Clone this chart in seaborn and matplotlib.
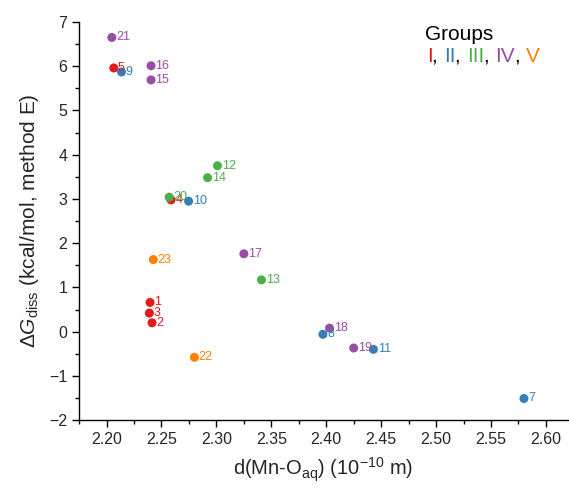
import pandas as pd
import matplotlib
matplotlib.use("Agg")
import matplotlib.pyplot as plt
from matplotlib.ticker import MultipleLocator
import seaborn as sns

# Datos
etiquetas = ['1', '2', '3', '4', '5',
             '7', '8', '9', '10', '11',
             '12', '13', '14', '20',
             '15', '16', '17', '18', '19', '21',
             '22', '23']
d_mn_o = [2.2396, 2.2414, 2.2390, 2.2587, 2.2066,
          2.5800, 2.3970, 2.2136, 2.2747, 2.4430,
          2.3010, 2.3410, 2.2920, 2.2570,
          2.2405, 2.2405, 2.3250, 2.4030, 2.4250, 2.2048,
          2.2800, 2.2426]
delta_g = [0.66, 0.20, 0.42, 2.98, 5.96,
           -1.51, -0.06, 5.87, 2.95, -0.40,
           3.75, 1.17, 3.48, 3.04,
           5.69, 6.01, 1.76, 0.08, -0.37, 6.65,
           -0.58, 1.63]
grupo = ['I'] * 5 + ['II'] * 5 + ['III'] * 4 + ['IV'] * 6 + ['V'] * 2

nombres_grupos = ['I', 'II', 'III', 'IV', 'V']
colores = {'I': '#e41a1c', 'II': '#377eb8', 'III': '#4daf4a',
           'IV': '#984ea3', 'V': '#ff7f00'}

df = pd.DataFrame({'d': d_mn_o, 'G': delta_g, 'grupo': grupo, 'etiqueta': etiquetas})

sns.set_style('ticks')
plt.rcParams['font.family'] = ['Liberation Sans', 'DejaVu Sans']
plt.rcParams['mathtext.fontset'] = 'custom'
plt.rcParams['mathtext.rm'] = 'Liberation Sans'
plt.rcParams['mathtext.it'] = 'Liberation Sans:italic'

fig = plt.figure(figsize=(5.69, 4.88), dpi=100)
ax = fig.add_axes([0.139, 0.139, 0.859, 0.816])

sns.scatterplot(data=df, x='d', y='G', hue='grupo', palette=colores,
                s=42, edgecolor='none', legend=False, ax=ax, zorder=3)

for _, fila in df.iterrows():
    ax.annotate(fila['etiqueta'], (fila['d'], fila['G']), xytext=(3, 0),
                textcoords='offset points', va='center', ha='left',
                fontsize=9, color=colores[fila['grupo']], zorder=4)

ax.set_xlim(2.175, 2.62)
ax.set_ylim(-2, 7)
ax.xaxis.set_major_locator(MultipleLocator(0.05))
ax.xaxis.set_minor_locator(MultipleLocator(0.025))
ax.yaxis.set_major_locator(MultipleLocator(1))
ax.yaxis.set_minor_locator(MultipleLocator(0.5))
ax.xaxis.set_major_formatter(matplotlib.ticker.FormatStrFormatter('%.2f'))
ax.tick_params(which='major', length=5, width=1, labelsize=11.5, color='black')
ax.tick_params(which='minor', length=3, width=1, color='black')
for lado in ['top', 'right']:
    ax.spines[lado].set_visible(False)
for lado in ['left', 'bottom']:
    ax.spines[lado].set_linewidth(1)
    ax.spines[lado].set_color('black')

ax.set_xlabel(r'd(Mn-O$_{\rm aq}$) (10$^{-10}$ m)', fontsize=14.5, labelpad=6)
ax.set_ylabel(r'$\Delta\mathit{G}_{\rm diss}$ (kcal/mol, method E)', fontsize=15, labelpad=6)

# Leyenda de grupos
fig.text(0.747, 0.930, 'Groups', fontsize=15, color='black', va='center')
x_txt = 0.750
for i, g in enumerate(nombres_grupos):
    t = fig.text(x_txt, 0.885, g, fontsize=15, color=colores[g], va='center')
    fig.canvas.draw()
    bb = t.get_window_extent().transformed(fig.transFigure.inverted())
    x_txt = bb.x1
    if i < len(nombres_grupos) - 1:
        c = fig.text(x_txt, 0.885, ', ', fontsize=15, color='black', va='center')
        fig.canvas.draw()
        x_txt = c.get_window_extent().transformed(fig.transFigure.inverted()).x1

fig.savefig('out.png', dpi=100)
